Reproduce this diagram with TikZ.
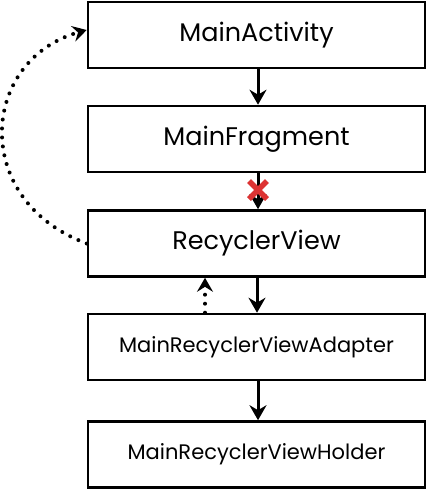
\documentclass[tikz,border=0pt]{standalone}
\usepackage{fontspec}
\setmainfont{Poppins}
\usetikzlibrary{arrows.meta}
\definecolor{crossred}{RGB}{221,51,51}
\tikzset{
    cls/.style={rectangle,draw,line width=2.6pt,minimum width=337pt,minimum height=66pt,inner sep=0pt},
    dedge/.style={-{Stealth[length=15pt,width=17pt,inset=5pt]}, line width=3pt, draw=black},
    dotedge/.style={-{Stealth[length=14pt,width=16pt,inset=5pt]}, line width=4pt, line cap=round, dash pattern=on 0pt off 9pt, draw=black},
}
\begin{document}
\begin{tikzpicture}[x=1pt,y=-1pt]
\useasboundingbox (0,0) rectangle (426,490);
\node[cls,font=\fontsize{25.5}{28}\selectfont] (act) at (256.5,35) {MainActivity};
\node[cls,font=\fontsize{25.5}{28}\selectfont] (frag) at (256.5,139) {MainFragment};
\node[cls,font=\fontsize{25.5}{28}\selectfont] (rv) at (256.5,243.5) {RecyclerView};
\node[cls,font=\fontsize{21}{24}\selectfont] (adapter) at (256.5,347) {MainRecyclerViewAdapter};
\node[cls,font=\fontsize{21}{24}\selectfont] (holder) at (256.5,454.5) {MainRecyclerViewHolder};
\draw[dedge] (act.south -| 258,0) -- (frag.north -| 258,0);
\draw[dedge] (frag.south -| 258,0) -- (rv.north -| 258,0);
\draw[dedge] (rv.south -| 257,0) -- (adapter.north -| 257,0);
\draw[dedge] (adapter.south -| 258,0) -- (holder.north -| 258,0);
\draw[dotedge] (adapter.north -| 205,0) -- (rv.south -| 205,0);
\draw[dotedge] (rv.west) .. controls (-30,200) and (-20,60) .. (act.north west |- 0,30);
% red cross on the fragment arrow
\coordinate (x) at (258,190);
\draw[crossred,line width=5.5pt] ([shift={(-9,-9)}]x) -- ([shift={(9,9)}]x)
  ([shift={(-9,9)}]x) -- ([shift={(9,-9)}]x);
\end{tikzpicture}
\end{document}
